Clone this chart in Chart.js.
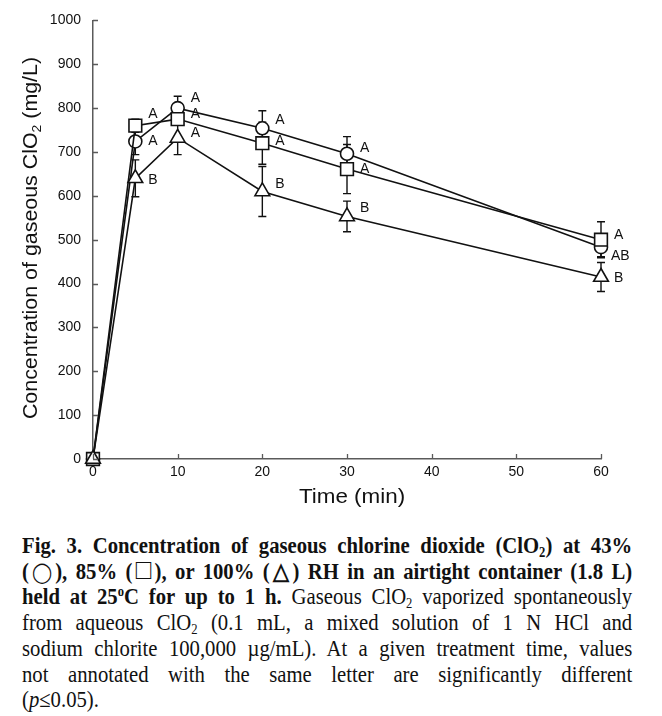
<!DOCTYPE html>
<html>
<head>
<meta charset="utf-8">
<script src="https://cdn.jsdelivr.net/npm/chart.js@4.4.1/dist/chart.umd.min.js"></script>
<style>
  html, body { margin: 0; padding: 0; background: #fff; overflow: hidden; }
  #wrap { position: relative; width: 662px; height: 520px; }
  #caption {
    width: 678px;
    margin: 13px 0 0 22px;
    transform: scaleX(0.9);
    transform-origin: left top;
    font-family: "Liberation Serif", "Times New Roman", serif;
    font-size: 23px;
    line-height: 25.7px;
    color: #111;
  }
  #caption .ln { text-align: justify; text-align-last: justify; white-space: nowrap; }
  #caption .ln.end { text-align-last: left; }
  #caption b { font-weight: bold; }
  #caption sub { font-size: 14px; line-height: 0; vertical-align: -4px; }
  #caption sup { font-size: 14px; line-height: 0; vertical-align: 8px; }
  #caption .sym { font-size: 1.25em; line-height: 0; font-weight: normal; }
  #caption .circ { font-size: 0.85em; line-height: 0; font-weight: normal; }
</style>
</head>
<body>
<div id="wrap"><canvas id="chart" width="662" height="520"></canvas></div>
<div id="caption">
  <div class="ln"><b>Fig. 3. Concentration of gaseous chlorine dioxide (ClO<sub>2</sub>) at 43%</b></div>
  <div class="ln"><b>(<span class="circ">&#9711;</span>), 85% (<span class="sym">&#9633;</span>), or 100% (&#9651;) RH in an airtight container (1.8 L)</b></div>
  <div class="ln"><b>held at 25<sup>o</sup>C for up to 1 h.</b> Gaseous ClO<sub>2</sub> vaporized spontaneously</div>
  <div class="ln">from aqueous ClO<sub>2</sub> (0.1 mL, a mixed solution of 1 N HCl and</div>
  <div class="ln">sodium chlorite 100,000 &micro;g/mL). At a given treatment time, values</div>
  <div class="ln">not annotated with the same letter are significantly different</div>
  <div class="ln end">(<i>p</i>&le;0.05).</div>
</div>
<script>
document.addEventListener('DOMContentLoaded', () => {
    // time points (min)
    const times = [0, 5, 10, 20, 30, 60];

    // mean gaseous ClO2 (mg/L)
    const rh43 = [0, 724, 800, 754, 696, 483];
    const rh85 = [0, 760, 775, 720, 661, 500];
    const rh100 = [0, 640, 732, 610, 553, 415];

    // error bar half-widths
    const err43 = [0, 30, 27, 40, 39, 22];
    const err85 = [0, 15, 12, 48, 56, 41];
    const err100 = [0, 42, 38, 57, 35, 33];

    // significance letters
    const let43 = ['', 'A', 'A', 'A', 'A', 'AB'];
    const let85 = ['', 'A', 'A', 'A', 'A', 'A'];
    const let100 = ['', 'B', 'A', 'B', 'B', 'B'];

    const yTicks = [0, 100, 200, 300, 400, 500, 600, 700, 800, 900, 1000];
    const xTicks = [0, 10, 20, 30, 40, 50, 60];

    // label offsets in px (dx, dy) per series
    const labelOffset = {
        rh43: [[0, 0], [13, 0], [13, -10], [13, -8], [13, -6], [10, 9]],
        rh85: [[0, 0], [13, -12], [13, -5], [13, -2], [13, 0], [13, -5]],
        rh100: [[0, 0], [13, 2], [13, -5], [13, -7], [13, -8], [13, 1]]
    };

    const pts = vals => times.map((t, i) => ({ x: t, y: vals[i] }));

    const series = [
        { key: 'rh100', label: '100% RH', vals: rh100, err: err100, letters: let100, style: 'triangle', radius: 8.5 },
        { key: 'rh85', label: '85% RH', vals: rh85, err: err85, letters: let85, style: 'rect', radius: 9 },
        { key: 'rh43', label: '43% RH', vals: rh43, err: err43, letters: let43, style: 'circle', radius: 6.5 }
    ];

    const axisColor = '#5a5a5a';
    const sans = '"Liberation Sans", Arial, sans-serif';

    // draws text pieces [text, font, dy] centred at 0, stretched horizontally
    const drawStretched = (ctx, parts, stretch) => {
        let total = 0;
        parts.forEach(p => { ctx.font = p[1]; total += ctx.measureText(p[0]).width; });
        ctx.scale(stretch, 1);
        ctx.textAlign = 'left';
        let cx = -total / 2;
        parts.forEach(p => {
            ctx.font = p[1];
            ctx.fillText(p[0], cx, p[2]);
            cx += ctx.measureText(p[0]).width;
        });
    };

    const extrasPlugin = {
        id: 'extras',
        beforeDatasetsDraw(chart) {
            const { ctx, scales: { x, y } } = chart;
            ctx.save();
            ctx.strokeStyle = '#111';
            ctx.lineWidth = 1.4;
            series.forEach(s => {
                times.forEach((t, i) => {
                    if (!s.err[i]) return;
                    const px = x.getPixelForValue(t);
                    const top = y.getPixelForValue(s.vals[i] + s.err[i]);
                    const bot = y.getPixelForValue(s.vals[i] - s.err[i]);
                    ctx.beginPath();
                    ctx.moveTo(px, top); ctx.lineTo(px, bot);
                    ctx.moveTo(px - 4, top); ctx.lineTo(px + 4, top);
                    ctx.moveTo(px - 4, bot); ctx.lineTo(px + 4, bot);
                    ctx.stroke();
                });
            });
            ctx.restore();
        },
        afterDraw(chart) {
            const { ctx, scales: { x, y }, chartArea } = chart;
            ctx.save();
            // inward tick marks
            ctx.strokeStyle = axisColor;
            ctx.lineWidth = 1.3;
            ctx.beginPath();
            yTicks.forEach(v => {
                const py = Math.round(y.getPixelForValue(v)) + 0.5;
                ctx.moveTo(chartArea.left, py); ctx.lineTo(chartArea.left + 5, py);
            });
            xTicks.forEach(v => {
                const px = Math.round(x.getPixelForValue(v)) + 0.5;
                ctx.moveTo(px, chartArea.bottom); ctx.lineTo(px, chartArea.bottom - 5);
            });
            ctx.stroke();

            // letters
            ctx.fillStyle = '#111';
            ctx.font = '14px ' + sans;
            ctx.textAlign = 'left';
            ctx.textBaseline = 'middle';
            series.forEach(s => {
                times.forEach((t, i) => {
                    if (!s.letters[i]) return;
                    const off = labelOffset[s.key][i];
                    ctx.fillText(s.letters[i], x.getPixelForValue(t) + off[0], y.getPixelForValue(s.vals[i]) + off[1]);
                });
            });

            // axis titles
            ctx.save();
            ctx.translate((chartArea.left + chartArea.right) / 2 + 5, 497);
            drawStretched(ctx, [['Time (min)', '20px ' + sans, 0]], 1.12);
            ctx.restore();

            ctx.save();
            ctx.translate(31, 238);
            ctx.rotate(-Math.PI / 2);
            drawStretched(ctx, [
                ['Concentration of gaseous ClO', '20px ' + sans, 0],
                ['2', '13px ' + sans, 6],
                [' (mg/L)', '20px ' + sans, 0]
            ], 1.07);
            ctx.restore();
            ctx.restore();
        }
    };

    const tickStyle = { color: '#111', font: { family: '"Liberation Sans", Arial', size: 14 }, callback: v => String(v) };

    const ctx = document.getElementById('chart').getContext('2d');
    new Chart(ctx, {
        type: 'line',
        data: {
            datasets: series.map(s => ({
                label: s.label,
                data: pts(s.vals),
                borderColor: '#111',
                borderWidth: 1.6,
                tension: 0,
                fill: false,
                pointStyle: s.style,
                pointRadius: s.radius,
                pointBackgroundColor: '#ffffff',
                pointBorderColor: '#111',
                pointBorderWidth: 1.6,
                clip: false
            }))
        },
        options: {
            responsive: false,
            animation: false,
            layout: { padding: { left: 0, right: 61, top: 15, bottom: 0 } },
            plugins: {
                legend: { display: false },
                tooltip: { enabled: false }
            },
            scales: {
                x: {
                    type: 'linear',
                    min: 0,
                    max: 60,
                    afterFit: s => { s.height = 61; },
                    afterBuildTicks: s => { s.ticks = xTicks.map(v => ({ value: v })); },
                    grid: { display: false, drawTicks: false },
                    border: { display: true, color: axisColor, width: 1.5 },
                    ticks: { ...tickStyle, padding: 5, maxRotation: 0 }
                },
                y: {
                    min: 0,
                    max: 1000,
                    afterFit: s => { s.width = 93; },
                    afterBuildTicks: s => { s.ticks = yTicks.map(v => ({ value: v })); },
                    grid: { display: false, drawTicks: false },
                    border: { display: true, color: axisColor, width: 1.5 },
                    ticks: { ...tickStyle, padding: 12 }
                }
            }
        },
        plugins: [extrasPlugin]
    });
});
</script>
</body>
</html>
